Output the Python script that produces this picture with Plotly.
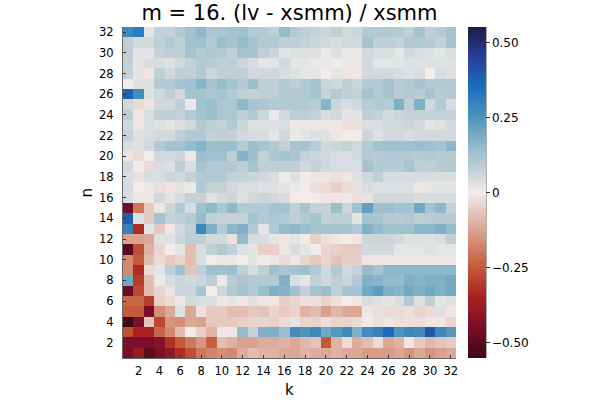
import plotly.graph_objects as go

k_vals = list(range(1, 33))
n_vals = list(range(1, 33))
tick_vals = list(range(2, 33, 2))
cbar_vals = [-0.5, -0.25, 0, 0.25, 0.5]
cbar_text = ["\u22120.50", "\u22120.25", "0", "0.25", "0.50"]

r01 = [-0.45,-0.38,-0.50,-0.45,-0.40,-0.33,-0.27,-0.20,-0.18,-0.16,-0.17,-0.11,-0.08,-0.10,-0.10,-0.12, -0.12,-0.10,-0.11,-0.12,-0.10,-0.12,-0.12,-0.14,-0.14,-0.14,-0.12,-0.15,-0.12,-0.15,-0.13,-0.12]
r02 = [-0.45,-0.45,-0.45,-0.43,-0.32,-0.25,-0.20,-0.15,-0.24,-0.08,-0.10,-0.13,-0.13,-0.11,-0.11,-0.10, -0.12,-0.09,-0.07,-0.25,-0.10,-0.03,-0.11,-0.08,-0.03,-0.12,-0.10,-0.01,-0.06,-0.09,-0.07,-0.06]
r03 = [-0.27,-0.35,-0.35,-0.23,-0.17,-0.08,0.00,-0.05,-0.10,0.01,0.01,0.15,0.07,0.18,0.18,0.14, 0.27,0.25,0.28,0.20,0.24,0.28,0.18,0.27,0.30,0.36,0.25,0.28,0.27,0.40,0.28,0.24]
r04 = [-0.55,-0.45,-0.07,-0.28,-0.15,-0.16,-0.12,-0.13,-0.06,-0.06,-0.06,-0.05,-0.04,-0.04,-0.05,-0.03, 0.02,-0.04,-0.04,-0.02,-0.04,-0.04,-0.03,0.00,-0.02,-0.01,-0.02,-0.02,-0.02,-0.01,-0.01,-0.04]
r05 = [-0.25,-0.25,-0.45,-0.16,-0.12,0.03,-0.12,-0.02,-0.06,-0.06,-0.08,-0.08,-0.06,-0.07,-0.04,-0.06, -0.04,-0.10,-0.08,-0.13,-0.09,-0.12,-0.12,-0.01,-0.02,-0.03,-0.03,-0.02,-0.04,-0.03,0.03,-0.01]
r06 = [-0.23,-0.23,-0.30,-0.05,-0.03,-0.01,0.05,0.04,0.04,-0.01,0.02,-0.01,0.03,-0.01,-0.01,-0.05, -0.04,-0.02,-0.02,-0.04,-0.02,0.00,-0.01,0.04,0.03,0.02,0.04,0.10,0.03,0.08,0.02,0.03]
r07 = [-0.47,-0.28,-0.08,-0.04,0.02,0.06,0.06,0.12,0.00,0.06,0.10,0.12,0.10,0.14,0.18,0.17, 0.13,0.07,0.12,0.14,0.08,0.12,0.12,0.20,0.23,0.18,0.17,0.20,0.18,0.20,0.18,0.20]
r08 = [0.20,-0.30,-0.08,0.01,0.04,0.06,0.05,0.06,0.08,0.01,0.09,0.11,0.10,0.10,0.10,0.18, 0.04,0.02,0.08,0.05,0.08,0.06,0.10,0.18,0.17,0.15,0.15,0.18,0.17,0.18,0.18,0.20]
r09 = [-0.17,-0.33,-0.03,0.02,0.08,0.13,-0.07,0.08,0.13,0.13,0.14,0.08,0.04,0.08,0.13,0.11, 0.12,0.13,0.10,0.05,0.10,0.05,0.07,0.15,0.12,0.16,0.16,0.16,0.16,0.16,0.16,0.16]
r10 = [-0.17,-0.25,-0.08,-0.03,-0.06,-0.04,-0.08,0.04,0.00,0.01,0.01,0.00,0.02,0.00,-0.01,-0.03, -0.01,-0.04,-0.06,-0.04,-0.07,-0.05,-0.05,-0.01,-0.01,-0.01,-0.01,-0.01,-0.01,-0.01,-0.01,-0.01]
r11 = [-0.50,-0.27,-0.10,-0.04,0.00,0.02,-0.08,0.04,0.08,0.10,0.07,0.03,0.02,-0.05,-0.05,-0.01, 0.04,0.02,0.00,-0.04,-0.05,-0.06,-0.06,0.05,0.05,0.05,0.02,0.02,0.02,0.03,0.02,0.02]
r12 = [-0.13,-0.13,-0.12,0.03,0.03,0.06,0.08,0.08,0.05,0.05,-0.02,0.15,0.04,0.04,0.02,-0.01, 0.02,0.00,-0.05,-0.02,0.01,0.00,-0.01,0.06,0.06,0.06,0.05,0.03,0.03,0.03,0.04,0.08]
r13 = [0.30,-0.33,0.02,-0.06,-0.01,0.05,0.08,0.28,0.18,0.10,0.16,0.18,0.10,0.02,0.10,0.15, 0.16,0.14,0.12,0.12,0.12,0.12,0.10,0.18,0.15,0.13,0.13,0.13,0.16,0.16,0.18,0.15]
r14 = [0.38,0.03,-0.06,0.12,0.07,0.08,0.10,0.15,0.08,0.07,0.07,0.07,0.12,0.10,0.11,0.10, 0.08,0.10,0.12,0.07,0.08,0.08,0.02,0.12,0.12,0.09,0.09,0.10,0.08,0.09,0.09,0.09]
r15 = [-0.46,-0.20,-0.06,-0.01,0.06,0.10,0.04,0.13,0.16,0.11,0.16,0.10,0.10,0.10,0.12,0.12, 0.08,0.12,0.07,0.07,0.14,0.06,0.13,0.22,0.14,0.14,0.12,0.12,0.20,0.12,0.16,0.07]
r16 = [0.04,-0.01,-0.01,0.05,0.02,0.04,0.07,0.07,0.03,0.05,0.06,0.03,0.05,0.06,0.05,0.04, 0.00,0.00,0.00,-0.01,-0.01,0.01,-0.02,0.02,0.05,0.05,0.05,0.05,0.04,0.04,0.04,0.04]
r17 = [0.04,0.00,0.01,-0.02,-0.01,0.02,0.01,0.10,0.07,0.07,0.05,0.04,0.04,0.03,0.03,0.02, 0.01,0.00,-0.02,-0.03,-0.05,-0.03,-0.02,0.04,0.03,0.03,0.03,0.03,0.01,0.02,0.02,0.02]
r18 = [0.04,-0.02,0.04,0.04,0.06,0.05,0.07,0.10,0.10,0.10,0.07,0.07,0.06,0.05,0.04,0.00, 0.03,0.00,-0.01,-0.01,-0.02,-0.01,0.03,0.05,0.08,0.04,0.04,0.04,0.04,0.04,0.04,0.04]
r19 = [0.05,0.00,-0.03,0.04,0.03,0.08,0.04,0.12,0.10,0.10,0.10,0.08,0.12,0.08,0.08,0.08, 0.08,0.05,0.07,0.05,0.04,0.04,0.04,0.12,0.10,0.09,0.09,0.12,0.08,0.08,0.09,0.10]
r20 = [-0.01,-0.03,0.00,0.05,0.05,0.06,-0.01,0.14,0.13,0.13,0.08,0.17,0.14,0.07,0.11,0.12, 0.11,0.07,0.06,0.05,0.04,0.04,0.05,0.10,0.09,0.10,0.10,0.10,0.09,0.10,0.09,0.09]
r21 = [0.04,0.03,0.05,0.10,0.12,0.12,0.15,0.17,0.14,0.14,0.14,0.10,0.14,0.12,0.10,0.07, 0.12,0.12,0.09,0.05,0.06,0.07,0.05,0.10,0.13,0.13,0.13,0.13,0.14,0.13,0.12,0.16]
r22 = [0.07,0.03,0.04,0.05,0.05,0.08,0.10,0.10,0.07,0.08,0.07,0.05,0.04,0.04,0.02,0.05, 0.01,0.02,0.03,0.03,-0.01,0.00,0.00,0.06,0.03,0.05,0.05,0.04,0.05,0.05,0.05,0.05]
r23 = [0.05,-0.01,0.04,0.03,0.02,0.04,0.05,0.10,0.08,0.07,0.10,0.06,0.03,0.03,0.03,0.04, 0.01,0.01,0.01,-0.01,0.01,-0.02,-0.02,0.04,0.04,0.05,0.05,0.06,0.05,0.02,0.03,0.05]
r24 = [0.08,-0.01,0.04,0.08,0.08,0.07,0.10,0.12,0.14,0.11,0.11,0.08,0.10,0.06,0.01,0.05, 0.08,0.08,0.07,0.04,0.05,0.02,0.02,0.08,0.07,0.05,0.06,0.07,0.07,0.07,0.07,0.07]
r25 = [0.05,-0.03,-0.01,0.05,0.05,0.08,0.01,0.13,0.14,0.11,0.11,0.16,0.12,0.11,0.10,0.10, 0.10,0.10,0.09,0.17,0.06,0.04,0.05,0.09,0.10,0.09,0.18,0.08,0.18,0.05,0.10,0.04]
r26 = [0.38,0.27,0.03,0.05,0.08,0.05,0.12,0.12,0.11,0.12,0.10,0.08,0.07,0.08,0.08,0.10, 0.10,0.10,0.12,0.07,0.10,0.08,0.07,0.12,0.10,0.12,0.09,0.10,0.09,0.12,0.09,0.10]
r27 = [0.00,0.03,0.03,0.10,0.10,0.12,0.13,0.17,0.12,0.15,0.12,0.10,0.14,0.08,0.08,0.10, 0.08,0.10,0.12,0.06,0.05,0.08,0.06,0.10,0.10,0.12,0.09,0.10,0.12,0.10,0.10,0.10]
r28 = [0.07,0.02,-0.01,0.08,0.05,0.08,0.08,0.10,0.06,0.08,0.08,0.08,0.05,0.05,0.05,0.04, 0.03,0.02,0.02,0.00,0.02,-0.01,-0.01,0.05,0.05,0.05,0.04,0.03,0.04,0.00,0.04,0.03]
r29 = [0.07,0.02,0.04,0.04,0.03,0.05,0.07,0.10,0.09,0.08,0.08,0.06,0.04,0.02,0.02,0.05, 0.02,0.02,0.01,0.01,0.00,0.01,-0.01,0.05,0.02,0.02,0.02,0.03,0.03,0.03,0.03,0.03]
r30 = [0.08,0.02,0.02,0.07,0.08,0.08,0.12,0.10,0.11,0.10,0.08,0.12,0.12,0.08,0.06,0.02, 0.03,0.03,0.03,0.01,0.03,0.01,0.01,0.05,0.04,0.04,0.02,0.05,0.04,0.03,0.02,0.04]
r31 = [0.08,0.05,0.05,0.08,0.10,0.08,0.13,0.13,0.10,0.14,0.12,0.15,0.12,0.10,0.10,0.08, 0.08,0.07,0.06,0.05,0.04,0.05,0.05,0.12,0.08,0.08,0.07,0.10,0.10,0.09,0.07,0.12]
r32 = [0.28,0.32,0.02,0.07,0.07,0.10,0.13,0.16,0.11,0.11,0.12,0.13,0.10,0.10,0.08,0.15, 0.10,0.08,0.07,0.06,0.08,0.05,0.06,0.10,0.10,0.10,0.10,0.08,0.12,0.08,0.10,0.12]

z = [r01, r02, r03, r04, r05, r06, r07, r08, r09, r10, r11, r12, r13, r14, r15, r16,
     r17, r18, r19, r20, r21, r22, r23, r24, r25, r26, r27, r28, r29, r30, r31, r32]

zlim = 0.552
balance = [
    [0.000, "#3c0912"],
    [0.092, "#7a0d2a"],
    [0.183, "#a8201f"],
    [0.274, "#c45a3a"],
    [0.364, "#d69580"],
    [0.437, "#e4c4ba"],
    [0.500, "#f1ecea"],
    [0.563, "#c4d2d8"],
    [0.636, "#94bccb"],
    [0.726, "#4e94bb"],
    [0.817, "#1a6fbd"],
    [0.908, "#2a3f99"],
    [1.000, "#181c43"],
]

L, R, T, B = 123, 144, 27, 42
PW = 600 - L - R
PH = 400 - T - B
cb_left = 468
cb_thick = 18

fig = go.Figure(go.Heatmap(
    x=k_vals, y=n_vals, z=z,
    zmin=-zlim, zmax=zlim, colorscale=balance,
    colorbar=dict(
        x=(cb_left - L) / PW, xanchor="left", xpad=0, ypad=0,
        y=0.5, yanchor="middle", len=1.0, lenmode="fraction",
        thickness=cb_thick, outlinewidth=0,
        tickvals=cbar_vals, ticktext=cbar_text, ticks="outside", ticklen=4,
        tickcolor="#333333", tickfont=dict(family="DejaVu Sans", size=12, color="#000000"),
    ),
))

# right edge line of colorbar (GR style)
fig.add_shape(type="line", xref="paper", yref="paper",
              x0=(cb_left + cb_thick - L) / PW, x1=(cb_left + cb_thick - L) / PW, y0=0, y1=1,
              line=dict(color="#666666", width=1))

axis_common = dict(
    showgrid=False, zeroline=False, showline=True, linecolor="#666666", linewidth=1,
    ticks="inside", ticklen=3, tickcolor="#333333",
    tickfont=dict(family="DejaVu Sans", size=11.5, color="#000000"),
    mirror=False,
)

fig.update_layout(
    width=600, height=400,
    margin=dict(l=L, r=R, t=T, b=B),
    paper_bgcolor="white", plot_bgcolor="white",
    title=dict(text="m = 16. (lv - xsmm) / xsmm", x=(L + 456) / 2 / 600, xanchor="center",
               y=1 - 13 / 400, yanchor="middle",
               font=dict(family="DejaVu Sans", size=21, color="#000000")),
    xaxis=dict(range=[0.5, 32.5], tickvals=tick_vals, ticklabelstandoff=2, **axis_common),
    yaxis=dict(range=[0.5, 32.5], tickvals=tick_vals, ticklabelstandoff=6, **axis_common),
    annotations=[
        dict(text="k", xref="paper", yref="paper", x=0.5, y=-(390 - (T + PH)) / PH,
             xanchor="center", yanchor="middle", showarrow=False,
             font=dict(family="DejaVu Sans", size=15, color="#000000")),
        dict(text="n", xref="paper", yref="paper", x=-(L - 86) / PW, y=0.5, textangle=-90,
             xanchor="center", yanchor="middle", showarrow=False,
             font=dict(family="DejaVu Sans", size=15, color="#000000")),
    ],
)

fig.write_html("out.html")
